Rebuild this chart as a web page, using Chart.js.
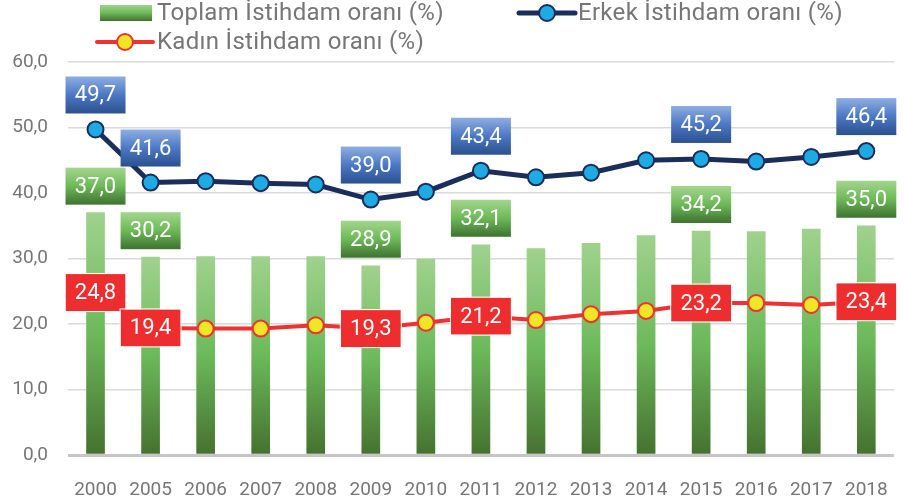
<!DOCTYPE html>
<html lang="tr">
<head>
  <meta charset="UTF-8">
  <title>İstihdam oranı</title>
  <script src="https://cdn.jsdelivr.net/npm/chart.js"></script>
  <style>
    body { margin: 0; background: #fff; }
    .wrap { width: 904px; height: 499px; position: relative; }
  </style>
</head>
<body>
  <div class="wrap"><canvas id="chart"></canvas></div>
  <script>
    const years = ['2000', '2005', '2006', '2007', '2008', '2009', '2010', '2011', '2012', '2013', '2014', '2015', '2016', '2017', '2018'];
    const toplam = [37.0, 30.2, 30.3, 30.3, 30.3, 28.9, 29.9, 32.1, 31.5, 32.3, 33.5, 34.2, 34.1, 34.5, 35.0];
    const erkek = [49.7, 41.6, 41.8, 41.5, 41.3, 39.0, 40.2, 43.4, 42.4, 43.1, 45.0, 45.2, 44.8, 45.5, 46.4];
    const kadin = [24.8, 19.4, 19.3, 19.3, 19.8, 19.3, 20.2, 21.2, 20.6, 21.5, 22.0, 23.2, 23.2, 22.9, 23.4];
    const labelled = [0, 1, 5, 7, 11, 14];

    const FONT = 'Roboto, "Liberation Sans", sans-serif';
    const GREY = '#767676';
    const fmt = v => v.toFixed(1).replace('.', ',');

    function vGrad(ctx, top, bottom, stops) {
      const g = ctx.createLinearGradient(0, top, 0, bottom);
      stops.forEach(s => g.addColorStop(s[0], s[1]));
      return g;
    }
    const barStops = [[0, '#a0d28e'], [0.5, '#6cb95a'], [1, '#45712f']];
    const greenBox = [[0, '#a3d68d'], [0.5, '#6db958'], [1, '#3e7230']];
    const blueBox = [[0, '#8eaee2'], [0.5, '#4c78c4'], [1, '#2a508f']];

    // value boxes on selected years
    const boxLabels = {
      id: 'boxLabels',
      afterDatasetsDraw(chart) {
        const ctx = chart.ctx;
        const w = 60, h = 37;
        ctx.save();
        ctx.font = '22px ' + FONT;
        ctx.textAlign = 'center';
        ctx.textBaseline = 'middle';
        [0, 1, 2].forEach(di => {
          const ds = chart.data.datasets[di];
          const meta = chart.getDatasetMeta(di);
          labelled.forEach(i => {
            const el = meta.data[i];
            let top;
            let fill;
            if (di === 0) { top = el.y - 8 - h; fill = vGrad(ctx, top, top + h, greenBox); }
            else if (di === 1) { top = el.y - 16 - h; fill = vGrad(ctx, top, top + h, blueBox); }
            else { top = el.y - h / 2; fill = '#ee2e2e'; }
            const left = el.x - w / 2;
            ctx.fillStyle = fill;
            ctx.fillRect(left, top, w, h);
            if (di === 2) {
              ctx.strokeStyle = '#ffffff';
              ctx.lineWidth = 1;
              ctx.strokeRect(left - 0.5, top - 0.5, w + 1, h + 1);
            }
            ctx.fillStyle = '#ffffff';
            ctx.fillText(fmt(ds.data[i]), el.x, top + h / 2 + 1);
          });
        });
        ctx.restore();
      }
    };

    // legend drawn by hand: two rows like the original
    const handLegend = {
      id: 'handLegend',
      afterDraw(chart) {
        const ctx = chart.ctx;
        const ds = chart.data.datasets;
        ctx.save();
        ctx.font = '24px ' + FONT;
        ctx.letterSpacing = '0.3px';
        ctx.textBaseline = 'middle';

        ctx.fillStyle = vGrad(ctx, 5, 21, barStops);
        ctx.fillRect(100, 5, 52, 16);
        ctx.fillStyle = GREY;
        ctx.fillText(ds[0].label, 157, 14);

        const lineKey = (x, y, d) => {
          ctx.strokeStyle = d.borderColor;
          ctx.lineWidth = d.borderWidth;
          ctx.lineCap = 'round';
          ctx.beginPath();
          ctx.moveTo(x, y);
          ctx.lineTo(x + 56, y);
          ctx.stroke();
          ctx.beginPath();
          ctx.arc(x + 28, y, d.pointRadius, 0, Math.PI * 2);
          ctx.fillStyle = d.pointBackgroundColor;
          ctx.fill();
          ctx.lineWidth = d.pointBorderWidth;
          ctx.strokeStyle = d.pointBorderColor;
          ctx.stroke();
        };
        lineKey(519, 13, ds[1]);
        ctx.fillStyle = GREY;
        ctx.fillText(ds[1].label, 578, 14);
        lineKey(97, 42, ds[2]);
        ctx.fillStyle = GREY;
        ctx.fillText(ds[2].label, 157, 43);
        ctx.restore();
      }
    };

    const ctx = document.getElementById('chart').getContext('2d');
    new Chart(ctx, {
      type: 'bar',
      data: {
        labels: years,
        datasets: [
          {
            type: 'bar',
            label: 'Toplam İstihdam oranı (%)',
            data: toplam,
            order: 3,
            barThickness: 18,
            backgroundColor(c) {
              const chart = c.chart;
              if (!chart.chartArea || c.type !== 'data') return '#6cb95a';
              const y = chart.scales.y;
              return vGrad(chart.ctx, y.getPixelForValue(c.parsed.y), y.getPixelForValue(0), barStops);
            }
          },
          {
            type: 'line',
            label: 'Erkek İstihdam oranı (%)',
            data: erkek,
            order: 2,
            borderColor: '#1b2d5a',
            borderWidth: 5,
            pointRadius: 8,
            pointBackgroundColor: '#1eaae2',
            pointBorderColor: '#1b2d5a',
            pointBorderWidth: 2,
            tension: 0
          },
          {
            type: 'line',
            label: 'Kadın İstihdam oranı (%)',
            data: kadin,
            order: 1,
            borderColor: '#ef3131',
            borderWidth: 4,
            pointRadius: 8,
            pointBackgroundColor: '#efe625',
            pointBorderColor: '#ef3131',
            pointBorderWidth: 2,
            tension: 0
          }
        ]
      },
      options: {
        responsive: true,
        maintainAspectRatio: false,
        animation: false,
        layout: { padding: { top: 62, right: 0, left: 0, bottom: 0 } },
        plugins: { legend: { display: false }, tooltip: { enabled: false } },
        scales: {
          x: {
            offset: true,
            grid: { display: false },
            border: { display: false },
            ticks: { color: GREY, font: { family: FONT, size: 19 }, padding: 16, maxRotation: 0 },
            afterFit(s) { s.height = 44; }
          },
          y: {
            min: 0,
            max: 60,
            border: { display: false },
            grid: {
              drawTicks: false,
              color: c => c.tick && c.tick.value === 0 ? '#c6c6c6' : '#dadada',
              lineWidth: c => c.tick && c.tick.value === 0 ? 3 : 1.5
            },
            ticks: {
              stepSize: 10,
              padding: 20,
              color: GREY,
              font: { family: FONT, size: 19 },
              callback: v => fmt(v)
            },
            afterFit(s) { s.width = 68; }
          }
        }
      },
      plugins: [boxLabels, handLegend]
    });
  </script>
</body>
</html>
